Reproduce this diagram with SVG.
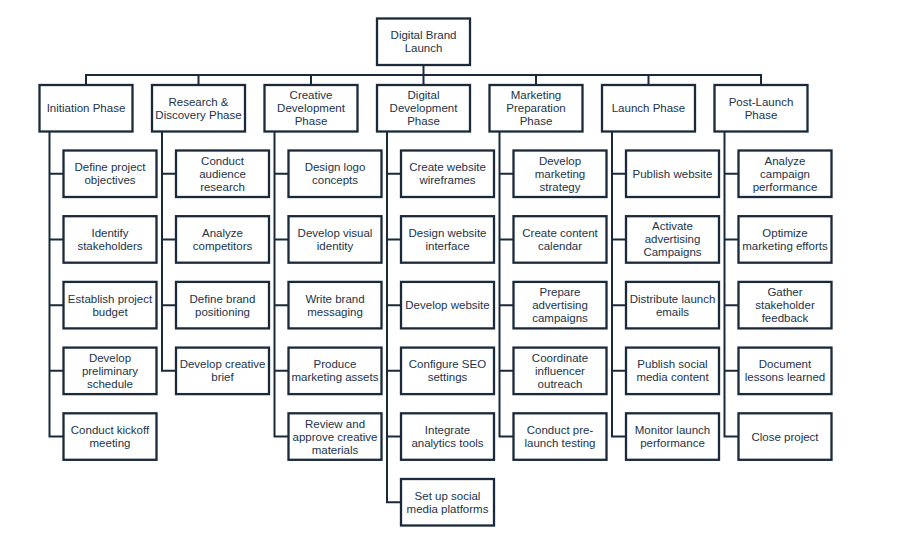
<svg xmlns="http://www.w3.org/2000/svg" width="900" height="550" viewBox="0 0 900 550">
<style>
.box{fill:#ffffff;stroke:#1b2a3b;stroke-width:2.3}
.con{fill:none;stroke:#1b2a3b;stroke-width:2}
text{font-family:"Liberation Sans",Arial,sans-serif;font-size:11.5px;fill:#22334a;text-anchor:middle}
</style>
<rect width="900" height="550" fill="#ffffff"/>
<g id="connectors">
<path class="con" d="M423.5 65 V75 M86 85 V75 H761 V85 M198.5 75 V85 M311 75 V85 M423.5 75 V85 M536 75 V85 M648.5 75 V85"/>
<path class="con" d="M49.5 131.5 V436.55 H63.5 M49.5 173.75 H63.5 M49.5 239.45 H63.5 M49.5 305.15 H63.5 M49.5 370.85 H63.5"/>
<path class="con" d="M162 131.5 V370.85 H176 M162 173.75 H176 M162 239.45 H176 M162 305.15 H176"/>
<path class="con" d="M274.5 131.5 V436.55 H288.5 M274.5 173.75 H288.5 M274.5 239.45 H288.5 M274.5 305.15 H288.5 M274.5 370.85 H288.5"/>
<path class="con" d="M387 131.5 V502.25 H401 M387 173.75 H401 M387 239.45 H401 M387 305.15 H401 M387 370.85 H401 M387 436.55 H401"/>
<path class="con" d="M499.5 131.5 V436.55 H513.5 M499.5 173.75 H513.5 M499.5 239.45 H513.5 M499.5 305.15 H513.5 M499.5 370.85 H513.5"/>
<path class="con" d="M612 131.5 V436.55 H626 M612 173.75 H626 M612 239.45 H626 M612 305.15 H626 M612 370.85 H626"/>
<path class="con" d="M724.5 131.5 V436.55 H738.5 M724.5 173.75 H738.5 M724.5 239.45 H738.5 M724.5 305.15 H738.5 M724.5 370.85 H738.5"/>
</g>
<g id="root"><rect class="box" x="377" y="18.5" width="93" height="46.5"/><text><tspan x="423.5" y="39.25">Digital Brand</tspan><tspan x="423.5" y="52.25">Launch</tspan></text></g>

<g id="p1"><rect class="box" x="39.5" y="85" width="93" height="46.5"/><text x="86" y="112.25">Initiation Phase</text></g>
<g id="p2"><rect class="box" x="152" y="85" width="93" height="46.5"/><text><tspan x="198.5" y="105.75">Research &amp;</tspan><tspan x="198.5" y="118.75">Discovery Phase</tspan></text></g>
<g id="p3"><rect class="box" x="264.5" y="85" width="93" height="46.5"/><text><tspan x="311" y="99.25">Creative</tspan><tspan x="311" y="112.25">Development</tspan><tspan x="311" y="125.25">Phase</tspan></text></g>
<g id="p4"><rect class="box" x="377" y="85" width="93" height="46.5"/><text><tspan x="423.5" y="99.25">Digital</tspan><tspan x="423.5" y="112.25">Development</tspan><tspan x="423.5" y="125.25">Phase</tspan></text></g>
<g id="p5"><rect class="box" x="489.5" y="85" width="93" height="46.5"/><text><tspan x="536" y="99.25">Marketing</tspan><tspan x="536" y="112.25">Preparation</tspan><tspan x="536" y="125.25">Phase</tspan></text></g>
<g id="p6"><rect class="box" x="602" y="85" width="93" height="46.5"/><text x="648.5" y="112.25">Launch Phase</text></g>
<g id="p7"><rect class="box" x="714.5" y="85" width="93" height="46.5"/><text><tspan x="761" y="105.75">Post-Launch</tspan><tspan x="761" y="118.75">Phase</tspan></text></g>

<!-- column 1 -->
<g id="c1-1"><rect class="box" x="63.5" y="150.5" width="93" height="46.5"/><text><tspan x="110" y="171.25">Define project</tspan><tspan x="110" y="184.25">objectives</tspan></text></g>
<g id="c1-2"><rect class="box" x="63.5" y="216.2" width="93" height="46.5"/><text><tspan x="110" y="236.95">Identify</tspan><tspan x="110" y="249.95">stakeholders</tspan></text></g>
<g id="c1-3"><rect class="box" x="63.5" y="281.9" width="93" height="46.5"/><text><tspan x="110" y="302.65">Establish project</tspan><tspan x="110" y="315.65">budget</tspan></text></g>
<g id="c1-4"><rect class="box" x="63.5" y="347.6" width="93" height="46.5"/><text><tspan x="110" y="361.85">Develop</tspan><tspan x="110" y="374.85">preliminary</tspan><tspan x="110" y="387.85">schedule</tspan></text></g>
<g id="c1-5"><rect class="box" x="63.5" y="413.3" width="93" height="46.5"/><text><tspan x="110" y="434.05">Conduct kickoff</tspan><tspan x="110" y="447.05">meeting</tspan></text></g>

<!-- column 2 -->
<g id="c2-1"><rect class="box" x="176" y="150.5" width="93" height="46.5"/><text><tspan x="222.5" y="164.75">Conduct</tspan><tspan x="222.5" y="177.75">audience</tspan><tspan x="222.5" y="190.75">research</tspan></text></g>
<g id="c2-2"><rect class="box" x="176" y="216.2" width="93" height="46.5"/><text><tspan x="222.5" y="236.95">Analyze</tspan><tspan x="222.5" y="249.95">competitors</tspan></text></g>
<g id="c2-3"><rect class="box" x="176" y="281.9" width="93" height="46.5"/><text><tspan x="222.5" y="302.65">Define brand</tspan><tspan x="222.5" y="315.65">positioning</tspan></text></g>
<g id="c2-4"><rect class="box" x="176" y="347.6" width="93" height="46.5"/><text><tspan x="222.5" y="368.35">Develop creative</tspan><tspan x="222.5" y="381.35">brief</tspan></text></g>

<!-- column 3 -->
<g id="c3-1"><rect class="box" x="288.5" y="150.5" width="93" height="46.5"/><text><tspan x="335" y="171.25">Design logo</tspan><tspan x="335" y="184.25">concepts</tspan></text></g>
<g id="c3-2"><rect class="box" x="288.5" y="216.2" width="93" height="46.5"/><text><tspan x="335" y="236.95">Develop visual</tspan><tspan x="335" y="249.95">identity</tspan></text></g>
<g id="c3-3"><rect class="box" x="288.5" y="281.9" width="93" height="46.5"/><text><tspan x="335" y="302.65">Write brand</tspan><tspan x="335" y="315.65">messaging</tspan></text></g>
<g id="c3-4"><rect class="box" x="288.5" y="347.6" width="93" height="46.5"/><text><tspan x="335" y="368.35">Produce</tspan><tspan x="335" y="381.35">marketing assets</tspan></text></g>
<g id="c3-5"><rect class="box" x="288.5" y="413.3" width="93" height="46.5"/><text><tspan x="335" y="427.55">Review and</tspan><tspan x="335" y="440.55">approve creative</tspan><tspan x="335" y="453.55">materials</tspan></text></g>

<!-- column 4 -->
<g id="c4-1"><rect class="box" x="401" y="150.5" width="93" height="46.5"/><text><tspan x="447.5" y="171.25">Create website</tspan><tspan x="447.5" y="184.25">wireframes</tspan></text></g>
<g id="c4-2"><rect class="box" x="401" y="216.2" width="93" height="46.5"/><text><tspan x="447.5" y="236.95">Design website</tspan><tspan x="447.5" y="249.95">interface</tspan></text></g>
<g id="c4-3"><rect class="box" x="401" y="281.9" width="93" height="46.5"/><text x="447.5" y="309.15">Develop website</text></g>
<g id="c4-4"><rect class="box" x="401" y="347.6" width="93" height="46.5"/><text><tspan x="447.5" y="368.35">Configure SEO</tspan><tspan x="447.5" y="381.35">settings</tspan></text></g>
<g id="c4-5"><rect class="box" x="401" y="413.3" width="93" height="46.5"/><text><tspan x="447.5" y="434.05">Integrate</tspan><tspan x="447.5" y="447.05">analytics tools</tspan></text></g>
<g id="c4-6"><rect class="box" x="401" y="479" width="93" height="46.5"/><text><tspan x="447.5" y="499.75">Set up social</tspan><tspan x="447.5" y="512.75">media platforms</tspan></text></g>

<!-- column 5 -->
<g id="c5-1"><rect class="box" x="513.5" y="150.5" width="93" height="46.5"/><text><tspan x="560" y="164.75">Develop</tspan><tspan x="560" y="177.75">marketing</tspan><tspan x="560" y="190.75">strategy</tspan></text></g>
<g id="c5-2"><rect class="box" x="513.5" y="216.2" width="93" height="46.5"/><text><tspan x="560" y="236.95">Create content</tspan><tspan x="560" y="249.95">calendar</tspan></text></g>
<g id="c5-3"><rect class="box" x="513.5" y="281.9" width="93" height="46.5"/><text><tspan x="560" y="296.15">Prepare</tspan><tspan x="560" y="309.15">advertising</tspan><tspan x="560" y="322.15">campaigns</tspan></text></g>
<g id="c5-4"><rect class="box" x="513.5" y="347.6" width="93" height="46.5"/><text><tspan x="560" y="361.85">Coordinate</tspan><tspan x="560" y="374.85">influencer</tspan><tspan x="560" y="387.85">outreach</tspan></text></g>
<g id="c5-5"><rect class="box" x="513.5" y="413.3" width="93" height="46.5"/><text><tspan x="560" y="434.05">Conduct pre-</tspan><tspan x="560" y="447.05">launch testing</tspan></text></g>

<!-- column 6 -->
<g id="c6-1"><rect class="box" x="626" y="150.5" width="93" height="46.5"/><text x="672.5" y="177.75">Publish website</text></g>
<g id="c6-2"><rect class="box" x="626" y="216.2" width="93" height="46.5"/><text><tspan x="672.5" y="230.45">Activate</tspan><tspan x="672.5" y="243.45">advertising</tspan><tspan x="672.5" y="256.45">Campaigns</tspan></text></g>
<g id="c6-3"><rect class="box" x="626" y="281.9" width="93" height="46.5"/><text><tspan x="672.5" y="302.65">Distribute launch</tspan><tspan x="672.5" y="315.65">emails</tspan></text></g>
<g id="c6-4"><rect class="box" x="626" y="347.6" width="93" height="46.5"/><text><tspan x="672.5" y="368.35">Publish social</tspan><tspan x="672.5" y="381.35">media content</tspan></text></g>
<g id="c6-5"><rect class="box" x="626" y="413.3" width="93" height="46.5"/><text><tspan x="672.5" y="434.05">Monitor launch</tspan><tspan x="672.5" y="447.05">performance</tspan></text></g>

<!-- column 7 -->
<g id="c7-1"><rect class="box" x="738.5" y="150.5" width="93" height="46.5"/><text><tspan x="785" y="164.75">Analyze</tspan><tspan x="785" y="177.75">campaign</tspan><tspan x="785" y="190.75">performance</tspan></text></g>
<g id="c7-2"><rect class="box" x="738.5" y="216.2" width="93" height="46.5"/><text><tspan x="785" y="236.95">Optimize</tspan><tspan x="785" y="249.95">marketing efforts</tspan></text></g>
<g id="c7-3"><rect class="box" x="738.5" y="281.9" width="93" height="46.5"/><text><tspan x="785" y="296.15">Gather</tspan><tspan x="785" y="309.15">stakeholder</tspan><tspan x="785" y="322.15">feedback</tspan></text></g>
<g id="c7-4"><rect class="box" x="738.5" y="347.6" width="93" height="46.5"/><text><tspan x="785" y="368.35">Document</tspan><tspan x="785" y="381.35">lessons learned</tspan></text></g>
<g id="c7-5"><rect class="box" x="738.5" y="413.3" width="93" height="46.5"/><text x="785" y="440.55">Close project</text></g>
</svg>
